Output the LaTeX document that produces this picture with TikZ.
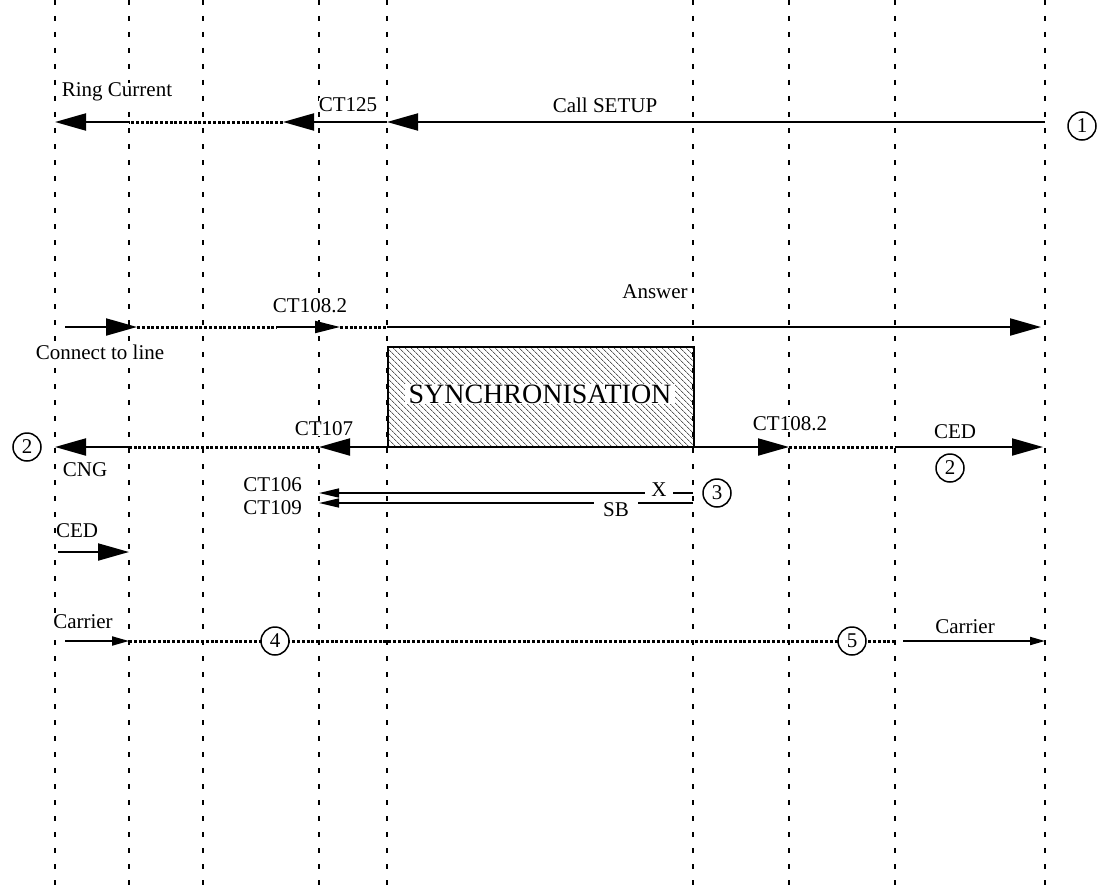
\documentclass[tikz,border=0pt]{standalone}
\usepackage{fontspec}
\setmainfont{Liberation Serif}
\usetikzlibrary{arrows.meta, patterns.meta}

\tikzset{
  lifeline/.style={line width=2pt, dash pattern=on 5pt off 11pt},
  sig/.style={line width=2pt, -{Triangle[length=31pt,width=17pt]}},
  midsig/.style={line width=2pt, -{Triangle[length=25pt,width=12pt]}},
  smallsig/.style={line width=2pt, -{Triangle[length=17pt,width=9pt]}},
  thinsig/.style={line width=1.5pt, -{Triangle[length=20pt,width=9pt]}},
  dotsig/.style={line width=3pt, dash pattern=on 3pt off 1.8pt},
  lbl/.style={font=\fontsize{21}{24}\selectfont, inner sep=0pt, fill=white},
  num/.style={draw, circle, line width=1.5pt, minimum size=28pt, inner sep=0pt, fill=white, font=\fontsize{21}{24}\selectfont}
}

\begin{document}
\begin{tikzpicture}[x=1pt, y=-1pt]
  \useasboundingbox (0,0) rectangle (1099,888);
  \fill[white] (0,0) rectangle (1099,888);

  % Lifelines and the points where the signals meet them
  \foreach \n/\x in {1/55, 2/129, 3/203, 4/319, 5/387, 6/693, 7/789, 8/895, 9/1045} {
    \draw[lifeline] (\x,0) -- (\x,888);
    \foreach \r/\y in {setup/122, answer/327, sync/447, ctx/493, ctsb/503, ced/552, carrier/641}
      \coordinate (\r\n) at (\x,\y);
  }
  \coordinate (ct125tip) at (283,122);
  \coordinate (connstart) at (65,327);
  \coordinate (conntip) at (137,327);
  \coordinate (ctupstart) at (277,327);
  \coordinate (ctuptip) at (340,327);
  \coordinate (answertip) at (1041,327);
  \coordinate (cedtip) at (1043,447);
  \coordinate (cedstart) at (58,552);
  \coordinate (carrstart) at (65,641);
  \coordinate (carrend) at (903,641);

  % Call setup
  \draw[dotsig] (ct125tip) -- (setup2);
  \draw[sig] (setup9) -- (setup5);
  \draw[sig] (setup5) -- (ct125tip);
  \draw[sig] (setup2) -- (setup1);
  \node[lbl] (ringlbl) at (117,92) {Ring Current};
  \node[lbl] (ct125lbl) at (348,105) {CT125};
  \node[lbl] (setuplbl) at (605,105) {Call SETUP};
  \node[num] (n1) at (1082,126) {1};

  % Answer
  \draw[dotsig] (conntip) -- (ctupstart);
  \draw[dotsig] (ctuptip) -- (answer5);
  \draw[sig] (connstart) -- (conntip);
  \draw[midsig] (ctupstart) -- (ctuptip);
  \draw[sig] (answer5) -- (answertip);
  \node[lbl] (ctuplbl) at (310,306) {CT108.2};
  \node[lbl] (answerlbl) at (655,292) {Answer};
  \node[lbl] (connlbl) at (100,352) {Connect to line};

  % Synchronisation
  \node[draw, line width=2pt, pattern={Lines[angle=-45, distance=4pt, line width=0.5pt]}, minimum width=306pt, minimum height=100pt, inner sep=0pt] (syncbox) at (541,397) {};
  \node[font=\fontsize{28}{32}\selectfont, fill=white, inner xsep=4pt, inner ysep=1pt] (synclbl) at (540,394) {SYNCHRONISATION};

  \draw[dotsig] (sync4) -- (sync2);
  \draw[dotsig] (sync7) -- (sync8);
  \draw[sig] (sync5) -- (sync4);
  \draw[sig] (sync2) -- (sync1);
  \draw[sig] (sync6) -- (sync7);
  \draw[sig] (sync8) -- (cedtip);
  \node[lbl] (ct107lbl) at (324,429) {CT107};
  \node[lbl] (cnglbl) at (85,470) {CNG};
  \node[lbl] (ctrlbl) at (790,424) {CT108.2};
  \node[lbl] (cedrlbl) at (955,432) {CED};
  \node[num] (n2l) at (27,447) {2};
  \node[num] (n2r) at (950,468) {2};

  % CT106 / CT109
  \draw[thinsig] (ctx6) -- (ctx4);
  \draw[thinsig] (ctsb6) -- (ctsb4);
  \node[lbl, inner xsep=6pt] (xlbl) at (659,490) {X};
  \node[lbl, inner xsep=9pt, inner ysep=1pt] (sblbl) at (616,510) {SB};
  \node[lbl, anchor=east] (ct106lbl) at (302,485) {CT106};
  \node[lbl, anchor=east] (ct109lbl) at (302,508) {CT109};
  \node[num] (n3) at (717,493) {3};

  % CED
  \draw[sig] (cedstart) -- (ced2);
  \node[lbl] (cedllbl) at (77,531) {CED};

  % Carrier
  \draw[dotsig] (carrier2) -- (carrier8);
  \draw[smallsig] (carrstart) -- (carrier2);
  \draw[line width=2pt, -{Triangle[length=15pt,width=8pt]}] (carrend) -- (carrier9);
  \node[num] (n4) at (275,641) {4};
  \node[num] (n5) at (852,641) {5};
  \node[lbl] (carrllbl) at (83,622) {Carrier};
  \node[lbl] (carrrlbl) at (965,627) {Carrier};
\end{tikzpicture}
\end{document}
